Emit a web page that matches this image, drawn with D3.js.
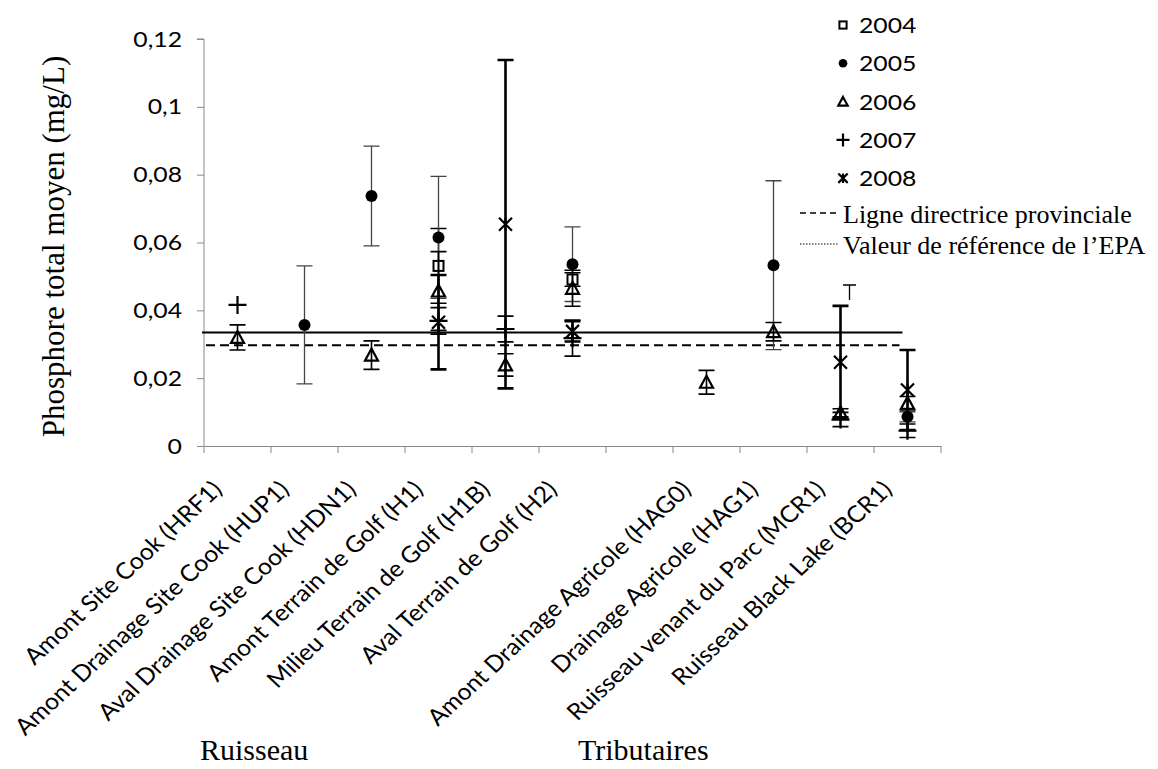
<!DOCTYPE html>
<html lang="fr">
<head>
<meta charset="UTF-8">
<title>Phosphore total moyen</title>
<script src="https://d3js.org/d3.v7.min.js"></script>
<style>
  body { margin: 0; background: #fff; }
  svg { display: block; }
  .sans { font-family: Lato, "Open Sans", sans-serif; fill: #000; }
  .serif { font-family: "Liberation Serif", "Times New Roman", serif; fill: #000; }
  .axis path, .axis line { stroke: #898989; }
</style>
</head>
<body>
<script>
// categories (the empty one is a gap in the original chart)
const categories = [
  "Amont Site Cook (HRF1)", "Amont Drainage Site Cook (HUP1)", "Aval Drainage Site Cook (HDN1)",
  "Amont Terrain de Golf (H1)", "Milieu Terrain de Golf (H1B)", "Aval Terrain de Golf (H2)", "",
  "Amont Drainage Agricole (HAG0)", "Drainage Agricole (HAG1)", "Ruisseau venant du Parc (MCR1)",
  "Ruisseau Black Lake (BCR1)"
];
const years = ["2004", "2005", "2006", "2007", "2008"];

// mean values and error (+/-) per year, null = no data
const mean2004 = [null, null, null, 0.0531, null, 0.0491, null, null, null, null, null];
const err2004  = [null, null, null, 0.011,  null, 0.002,  null, null, null, null, null];
const mean2005 = [null, 0.0357, 0.0737, 0.0615, null, 0.0536, null, null, 0.0533, null, 0.0086];
const err2005  = [null, 0.0174, 0.0147, 0.018,  null, 0.011,  null, null, 0.0249, null, 0.0015];
const mean2006 = [0.032,  null, 0.0268, 0.0457, 0.0239, 0.0465, null, 0.0188, 0.0337, 0.0098, 0.0126];
const err2006  = [0.0037, null, 0.0042, 0.0116, 0.0033, 0.0053, null, 0.0035, 0.0027, 0.0012, 0.002];
const mean2007 = [0.0416, null, null, 0.0369, 0.0345, 0.0318, null, null, null, 0.0078, 0.0045];
const err2007  = [0,      null, null, 0.0039, 0.0038, 0.0053, null, null, null, 0.0021, 0.002];
const mean2008 = [null, null, null, 0.0365, 0.0654, 0.0338, null, null, null, 0.0247, 0.0165];
const err2008  = [null, null, null, 0.0139, 0.0484, 0.003,  null, null, null, 0.0166, 0.0118];

const guideProv = 0.0297;   // Ligne directrice provinciale (dashed)
const epaRef = 0.0335;      // Valeur de référence de l'EPA (drawn solid)
const yTicks = [0, 0.02, 0.04, 0.06, 0.08, 0.1, 0.12];

const series = [
  { year: "2004", mean: mean2004, err: err2004, shape: "square",   bw: 1.5, col: "#000" },
  { year: "2005", mean: mean2005, err: err2005, shape: "circle",   bw: 1.3, col: "#444" },
  { year: "2006", mean: mean2006, err: err2006, shape: "triangle", bw: 1.6, col: "#000" },
  { year: "2007", mean: mean2007, err: err2007, shape: "plus",     bw: 1.6, col: "#000" },
  { year: "2008", mean: mean2008, err: err2008, shape: "star",     bw: 2.6, col: "#000" }
];

const W = 1158, H = 769;
const SX = 1.18;   // tick and legend numbers are a bit wider than Lato
const SXL = 1.08;  // same for the slanted category labels

const svg = d3.select("body").append("svg").attr("width", W).attr("height", H);

const x = d3.scaleBand().domain(categories).range([204, 941]);
const y = d3.scaleLinear().domain([0, 0.12]).range([446, 39]);
const cx = c => x(c) + x.bandwidth() / 2;
const fmt = v => String(+v.toFixed(2)).replace(".", ",");

// y axis
const yAxis = svg.append("g").attr("class", "axis").attr("transform", "translate(204,0)")
  .call(d3.axisLeft(y).tickValues(yTicks).tickSize(7).tickFormat(""));
yAxis.select(".domain").attr("d", `M-7,${y(0.12)}H0V${y(0)}`);

svg.append("g").selectAll("text").data(yTicks).join("text")
  .attr("class", "sans")
  .attr("transform", d => `translate(182,${y(d) + 7.5}) scale(${SX},1)`)
  .attr("text-anchor", "end")
  .attr("font-size", 21)
  .text(fmt);

// x axis with ticks on category boundaries
const xAxis = svg.append("g").attr("class", "axis").attr("transform", "translate(0,446)")
  .call(d3.axisBottom(x).tickSize(0).tickFormat(""));
xAxis.selectAll(".tick").remove();
const bounds = d3.range(categories.length + 1).map(i => x.range()[0] + i * x.step());
xAxis.selectAll("line.b").data(bounds).join("line")
  .attr("class", "b").attr("x1", d => d).attr("x2", d => d).attr("y1", 0).attr("y2", 7)
  .attr("stroke", "#898989");

svg.append("g").selectAll("text").data(categories).join("text")
  .attr("class", "sans")
  .attr("font-size", 23)
  .attr("text-anchor", "end")
  .attr("transform", d => `translate(${cx(d) - 14},491) scale(${SXL},1) rotate(-45)`)
  .text(d => d);

// reference lines
const lineX0 = x.range()[0] - 2, lineX1 = cx(categories[categories.length - 1]) - 5;
svg.append("line").attr("x1", lineX0).attr("x2", lineX1)
  .attr("y1", y(epaRef)).attr("y2", y(epaRef))
  .attr("stroke", "#000").attr("stroke-width", 2);
svg.append("line").attr("x1", lineX0 + 4).attr("x2", lineX1 - 3)
  .attr("y1", y(guideProv)).attr("y2", y(guideProv))
  .attr("stroke", "#000").attr("stroke-width", 2).attr("stroke-dasharray", "9,5");

// marker shapes
function marker(g, shape, s) {
  if (shape === "square") {
    g.append("rect").attr("x", -5 * s).attr("y", -5 * s).attr("width", 10 * s).attr("height", 10 * s)
      .attr("fill", "none").attr("stroke", "#000").attr("stroke-width", 2);
  } else if (shape === "circle") {
    g.append("circle").attr("r", 6 * s).attr("fill", "#000");
  } else if (shape === "triangle") {
    g.append("path").attr("d", `M0,${-6.5 * s}L${6.5 * s},${5.5 * s}L${-6.5 * s},${5.5 * s}Z`)
      .attr("fill", "none").attr("stroke", "#000").attr("stroke-width", 2.2);
  } else if (shape === "plus") {
    g.append("path").attr("d", `M${-9 * s},0H${9 * s}M0,${-9 * s}V${9 * s}`)
      .attr("stroke", "#000").attr("stroke-width", 2.2);
  } else if (shape === "star") {
    const a = 6.5 * s;
    g.append("path").attr("d", `M${-a},${-a}L${a},${a}M${-a},${a}L${a},${-a}M0,${-a}V${a}`)
      .attr("stroke", "#000").attr("stroke-width", 2.2);
  }
}

// error bars and points
series.forEach(sr => {
  const pts = categories.map((c, i) => ({ c, v: sr.mean[i], e: sr.err[i] })).filter(d => d.v != null);
  const g = svg.append("g");
  pts.filter(d => d.e > 0).forEach(d => {
    const px = cx(d.c), top = y(d.v + d.e), bot = y(d.v - d.e);
    g.append("path")
      .attr("d", `M${px},${top}V${bot}M${px - 8},${top}H${px + 8}M${px - 8},${bot}H${px + 8}`)
      .attr("stroke", sr.col).attr("stroke-width", sr.bw).attr("fill", "none");
  });
  pts.forEach(d => {
    marker(g.append("g").attr("transform", `translate(${cx(d.c)},${y(d.v)})`), sr.shape, 1);
  });
});

// legend
const leg = svg.append("g");
years.forEach((yr, i) => {
  const ly = 25 + i * 38.3;
  marker(leg.append("g").attr("transform", `translate(843,${ly})`), series[i].shape, 0.72);
  leg.append("text").attr("class", "sans").attr("font-size", 21)
    .attr("transform", `translate(859,${ly + 8}) scale(${SX},1)`).text(yr);
});
leg.append("line").attr("x1", 800).attr("x2", 839).attr("y1", 213).attr("y2", 213)
  .attr("stroke", "#000").attr("stroke-width", 1.5).attr("stroke-dasharray", "6,4");
leg.append("text").attr("class", "serif").attr("font-size", 26)
  .attr("x", 843).attr("y", 223).text("Ligne directrice provinciale");
leg.append("line").attr("x1", 800).attr("x2", 839).attr("y1", 244).attr("y2", 244)
  .attr("stroke", "#000").attr("stroke-width", 1).attr("stroke-dasharray", "1.5,1.5");
leg.append("text").attr("class", "serif").attr("font-size", 26)
  .attr("x", 843).attr("y", 254).text("Valeur de référence de l\u2019EPA");
leg.append("path").attr("d", "M843,285H856M849.5,285V300")
  .attr("stroke", "#000").attr("stroke-width", 1.3).attr("fill", "none");

// titles
svg.append("text").attr("class", "serif").attr("font-size", 31)
  .attr("text-anchor", "middle")
  .attr("transform", `translate(64,${(y(0.12) + y(0)) / 2 + 4}) rotate(-90)`)
  .text("Phosphore total moyen (mg/L)");
svg.append("text").attr("class", "serif").attr("font-size", 30)
  .attr("x", 200).attr("y", 760).text("Ruisseau");
svg.append("text").attr("class", "serif").attr("font-size", 30)
  .attr("x", 578).attr("y", 760).text("Tributaires");
</script>
</body>
</html>
